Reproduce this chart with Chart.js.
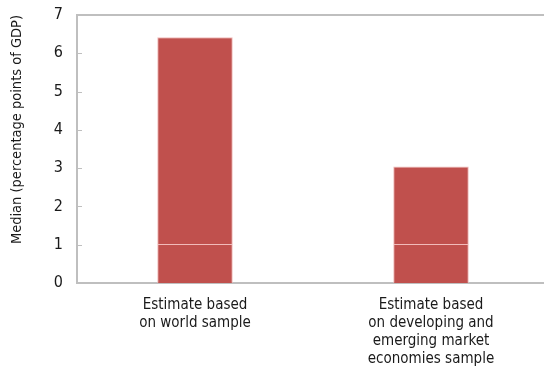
<!DOCTYPE html>
<html>
<head>
<meta charset="utf-8">
<script src="https://cdn.jsdelivr.net/npm/chart.js@4"></script>
<style>
  html, body { margin: 0; padding: 0; background: #fff; overflow: hidden; }
  #wrap { position: relative; width: 549px; height: 376px; }
</style>
</head>
<body>
<div id="wrap"><canvas id="c"></canvas></div>
<script>
// Categories and values (median, percentage points of GDP)
const categories = [
  ['Estimate based', 'on world sample'],
  ['Estimate based', 'on developing and', 'emerging market', 'economies sample']
];
const lowerSegment = [1.02, 1.02];
const upperSegment = [5.40, 2.02];
const yTicks = [0, 1, 2, 3, 4, 5, 6, 7];

const FONT = "'DejaVu Sans Condensed', 'Liberation Sans Narrow', 'Arial Narrow', sans-serif";
const AXIS_GRAY = '#bfbfbf';
const BAR_RED = '#c0504d';
const TEXT = '#1a1a1a';

// Frame line along the top of the plot and short inward ticks on the value axis
const frame = {
  id: 'frame',
  afterDraw(chart) {
    const { ctx, chartArea: a, scales } = chart;
    ctx.save();
    ctx.strokeStyle = AXIS_GRAY;
    ctx.lineWidth = 2;
    ctx.beginPath();
    ctx.moveTo(a.left - 1, a.top);
    ctx.lineTo(a.right, a.top);
    ctx.stroke();
    ctx.lineWidth = 1;
    yTicks.forEach(v => {
      if (v === 0 || v === 7) return;
      const y = Math.round(scales.y.getPixelForValue(v)) + 0.5;
      ctx.beginPath();
      ctx.moveTo(a.left, y);
      ctx.lineTo(a.left + 5, y);
      ctx.stroke();
    });
    ctx.restore();
  }
};

new Chart(document.getElementById('c'), {
  type: 'bar',
  data: {
    labels: categories,
    datasets: [
      { data: lowerSegment, backgroundColor: BAR_RED, borderColor: 'rgba(240,180,178,0.9)', borderWidth: 1, barPercentage: 0.64, categoryPercentage: 0.5 },
      { data: upperSegment, backgroundColor: BAR_RED, borderColor: 'rgba(240,180,178,0.9)', borderWidth: 1, barPercentage: 0.64, categoryPercentage: 0.5 }
    ]
  },
  options: {
    responsive: true,
    maintainAspectRatio: false,
    animation: false,
    layout: { padding: { left: 0, right: 0, top: 15, bottom: 0 } },
    plugins: { legend: { display: false }, tooltip: { enabled: false } },
    scales: {
      x: {
        stacked: true,
        grid: { display: false, drawTicks: false },
        border: { color: AXIS_GRAY, width: 2 },
        ticks: { color: TEXT, font: { family: FONT, size: 15, lineHeight: 1.2 }, padding: 13, maxRotation: 0 },
        afterFit(s) { s.height = 93; s.paddingLeft = 0; s.paddingRight = 0; }
      },
      y: {
        stacked: true,
        min: 0, max: 7,
        afterBuildTicks(s) { s.ticks = yTicks.map(v => ({ value: v })); },
        grid: { display: false, drawTicks: false },
        border: { color: AXIS_GRAY, width: 2 },
        ticks: { color: TEXT, font: { family: FONT, size: 16 }, padding: 14 },
        title: { display: true, text: 'Median (percentage points of GDP)', align: 'end', color: TEXT, font: { family: FONT, size: 14.5 }, padding: { top: 9, bottom: 0 } },
        afterFit(s) { s.width = 77; s.paddingTop = 0; s.paddingBottom = 0; }
      }
    }
  },
  plugins: [frame]
});
</script>
</body>
</html>
